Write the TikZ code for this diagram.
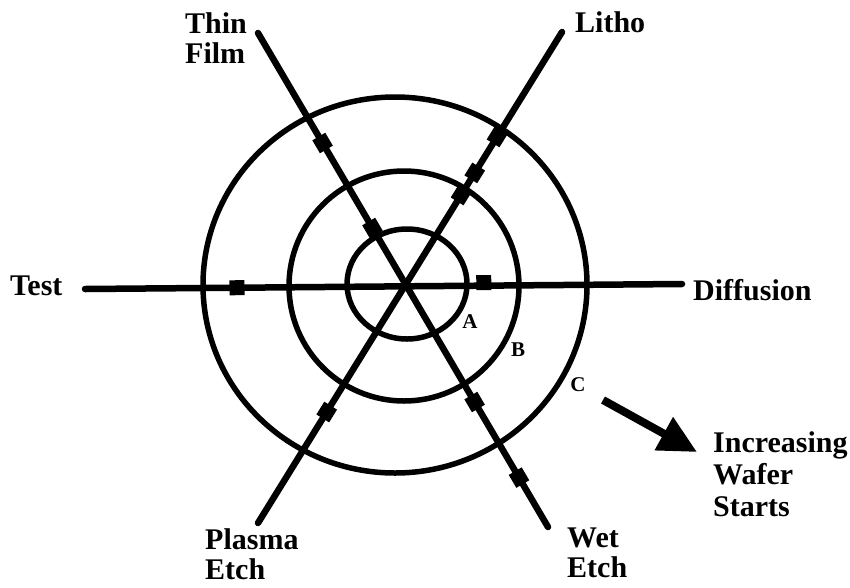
\documentclass[tikz,border=0pt]{standalone}
\usepackage{fontspec}
\setmainfont{Liberation Serif}
\usetikzlibrary{arrows.meta}
\begin{document}
\begin{tikzpicture}[x=1pt,y=-1pt,
  lbl/.style={font=\bfseries\fontsize{30}{30}\selectfont, inner sep=0pt, align=left},
  sm/.style={font=\bfseries\fontsize{21}{21}\selectfont, inner sep=0pt},
  spoke/.style={line width=6.5pt, line cap=round},
  ring/.style={line width=5.5pt},
  mk/.style={fill=black, minimum size=15pt, inner sep=0pt, sloped}]
\useasboundingbox (0,0) rectangle (850,587);
% rings
\draw[ring] (407,284) ellipse [x radius=60, y radius=55];
\draw[ring] (404,286) circle [radius=115];
\draw[ring] (395,285) ellipse [x radius=192, y radius=188];
% spoke end points
\coordinate (tfT) at (258,33);
\coordinate (tfB) at (548,527);
\coordinate (liT) at (562,32);
\coordinate (liB) at (258,523);
\coordinate (teL) at (85,289);
\coordinate (dfR) at (682,284);
% spokes with markers
\draw[spoke] (tfT) -- node[mk,pos=0.2227] (m1) {} node[mk,pos=0.3947] (m2) {}
  node[mk,pos=0.747] (m3) {} node[mk,pos=0.9] (m4) {} (tfB);
\draw[spoke] (liT) -- node[mk,pos=0.2138] (m5) {} node[mk,pos=0.287] (m6) {}
  node[mk,pos=0.332] (m7) {} node[mk,pos=0.774] (m8) {} (liB);
\draw[spoke] (teL) -- node[mk,pos=0.2546] (m9) {} node[mk,pos=0.668,yshift=3pt] (m10) {} (dfR);
% labels
\node[lbl, anchor=north west] (thinfilm) at (185,12) {Thin\\Film};
\node[lbl, anchor=base west] (litho) at (575,32) {Litho};
\node[lbl, anchor=base west] (test) at (10,295) {Test};
\node[lbl, anchor=base west] (diff) at (693,300) {Diffusion};
\node[lbl, anchor=north west] (plasma) at (205,528) {Plasma\\Etch};
\node[lbl, anchor=north west] (wet) at (567,528) {Wet\\Etch};
\node[lbl, anchor=north west, font=\bfseries\fontsize{30}{32}\selectfont] (iws) at (713,431) {Increasing\\Wafer\\Starts};
\node[sm] (A) at (470,322) {A};
\node[sm] (B) at (518,350) {B};
\node[sm] (C) at (578,385) {C};
% arrow
\coordinate (arS) at (603,400);
\coordinate (arE) at (697,452);
\draw[line width=8pt, -{Triangle[length=38pt,width=36pt]}] (arS) -- (arE);
\end{tikzpicture}
\end{document}
